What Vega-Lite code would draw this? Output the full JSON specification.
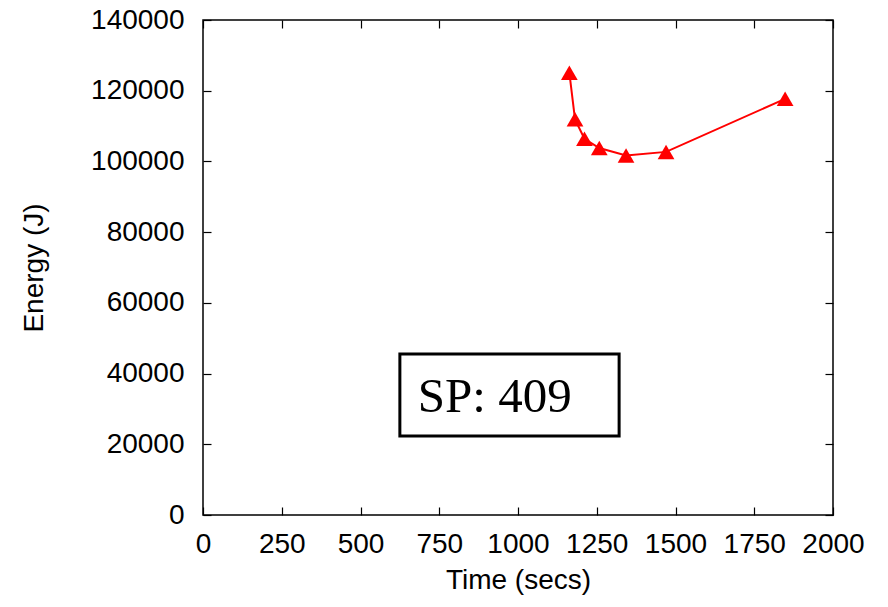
{
  "$schema": "https://vega.github.io/schema/vega-lite/v6.json",
  "width": 630,
  "height": 495,
  "autosize": "none",
  "padding": {"left": 203, "top": 20, "right": 55, "bottom": 92},
  "background": "white",
  "config": {
    "view": {"stroke": "black", "strokeWidth": 1.5},
    "font": "Liberation Sans",
    "axis": {
      "grid": false,
      "domain": false,
      "tickColor": "black",
      "tickSize": -8,
      "tickWidth": 1.2,
      "labelFont": "Liberation Sans",
      "labelFontSize": 28,
      "labelColor": "black",
      "labelOverlap": false,
      "labelFlush": false,
      "titleFont": "Liberation Sans",
      "titleFontSize": 28,
      "titleFontWeight": "normal",
      "titleColor": "black",
      "format": "d"
    }
  },
  "datasets": {
    "pts": [
      {"time": 1163, "energy": 125100},
      {"time": 1181, "energy": 111900},
      {"time": 1211, "energy": 106400},
      {"time": 1258, "energy": 103800},
      {"time": 1343, "energy": 101700},
      {"time": 1470, "energy": 102700},
      {"time": 1848, "energy": 117700}
    ],
    "box": [
      {"x1": 625, "x2": 1321, "y1": 22350, "y2": 45540, "label": "SP: 409", "tx": 682, "ty": 29000}
    ]
  },
  "layer": [
    {
      "data": {"name": "pts"},
      "mark": {"type": "line", "color": "#ff0000", "strokeWidth": 2},
      "encoding": {
        "x": {"field": "time", "type": "quantitative", "scale": {"domain": [0, 2000], "nice": false},
              "axis": {"title": "Time (secs)", "values": [0,250,500,750,1000,1250,1500,1750,2000], "labelPadding": 23, "titlePadding": 8}},
        "y": {"field": "energy", "type": "quantitative", "scale": {"domain": [0, 140000], "nice": false},
              "axis": {"title": "Energy (J)", "values": [0,20000,40000,60000,80000,100000,120000,140000], "labelPadding": 27, "titlePadding": 42}}
      }
    },
    {
      "data": {"name": "pts"},
      "mark": {"type": "point", "shape": "triangle-up", "filled": true, "color": "#ff0000", "size": 280, "opacity": 1},
      "encoding": {
        "x": {"field": "time", "type": "quantitative", "axis": {"orient": "top", "labels": false, "title": null, "values": [0,250,500,750,1000,1250,1500,1750,2000]}},
        "y": {"field": "energy", "type": "quantitative", "axis": {"orient": "right", "labels": false, "title": null, "values": [0,20000,40000,60000,80000,100000,120000,140000]}}
      }
    },
    {
      "data": {"name": "box"},
      "mark": {"type": "rect", "fill": "white", "stroke": "black", "strokeWidth": 3},
      "encoding": {
        "x": {"field": "x1", "type": "quantitative", "axis": null},
        "x2": {"field": "x2"},
        "y": {"field": "y1", "type": "quantitative", "axis": null},
        "y2": {"field": "y2"}
      }
    },
    {
      "data": {"name": "box"},
      "mark": {"type": "text", "font": "Liberation Serif", "fontSize": 49, "align": "left", "baseline": "alphabetic", "color": "black"},
      "encoding": {
        "x": {"field": "tx", "type": "quantitative", "axis": null},
        "y": {"field": "ty", "type": "quantitative", "axis": null},
        "text": {"field": "label"}
      }
    }
  ],
  "resolve": {"axis": {"x": "independent", "y": "independent"}}
}
